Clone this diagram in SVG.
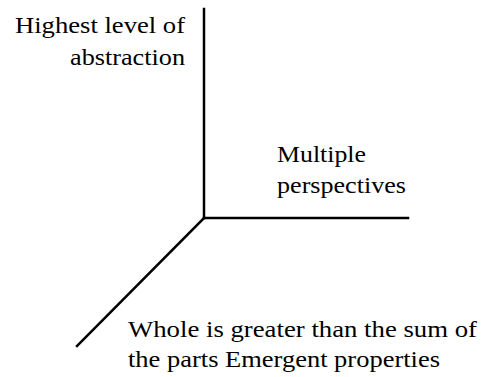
<svg xmlns="http://www.w3.org/2000/svg" width="487" height="377" viewBox="0 0 487 377">
<style>
.t{font-size:23px;fill:#000}
.ax{stroke:#000;stroke-width:2.5;fill:none;stroke-linecap:square}
</style>
<rect width="487" height="377" fill="#fff"/>
<g id="connectors">
<line class="ax" x1="204" y1="9" x2="204" y2="218"/>
<line class="ax" x1="204" y1="218" x2="408" y2="218"/>
<line class="ax" x1="204" y1="218" x2="77" y2="346"/>
</g>
<g font-family="Liberation Serif, DejaVu Serif, serif">
<g id="node-abstraction">
<text class="t" x="15" y="33" textLength="170" lengthAdjust="spacingAndGlyphs">Highest level of</text>
<text class="t" x="70" y="65" textLength="115" lengthAdjust="spacingAndGlyphs">abstraction</text>
</g>
<g id="node-perspectives">
<text class="t" x="277" y="162" textLength="89" lengthAdjust="spacingAndGlyphs">Multiple</text>
<text class="t" x="277" y="193" textLength="129" lengthAdjust="spacingAndGlyphs">perspectives</text>
</g>
<g id="node-emergent">
<text class="t" x="128" y="337" textLength="349" lengthAdjust="spacingAndGlyphs">Whole is greater than the sum of</text>
<text class="t" x="128" y="367" textLength="312" lengthAdjust="spacingAndGlyphs">the parts Emergent properties</text>
</g>
</g>
</svg>
